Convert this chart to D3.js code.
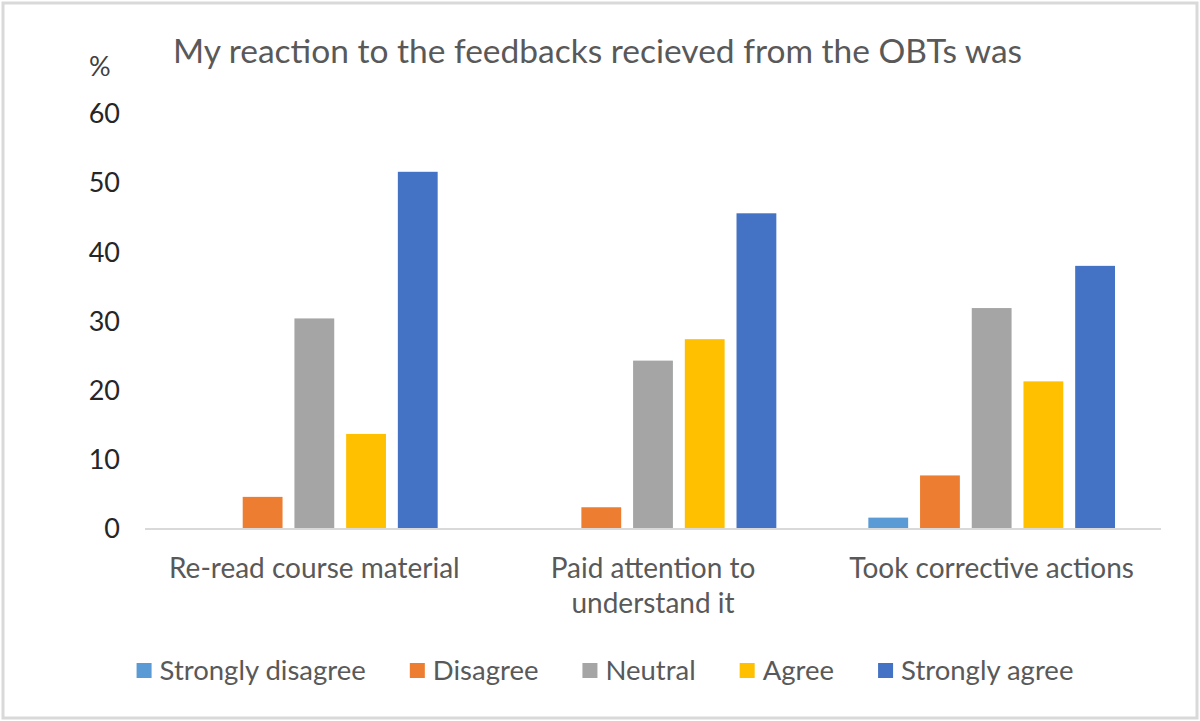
<!DOCTYPE html>
<html>
<head>
<meta charset="utf-8">
<script src="https://cdn.jsdelivr.net/npm/d3@7"></script>
<style>
  body { margin: 0; background: #fff; }
  text { font-family: Lato, "Open Sans", sans-serif; }
</style>
</head>
<body>
<script>
var categories = ["Re-read course material", "Paid attention to understand it", "Took corrective actions"];
var seriesNames = ["Strongly disagree", "Disagree", "Neutral", "Agree", "Strongly agree"];
var seriesColors = ["#5B9BD5", "#ED7D31", "#A5A5A5", "#FFC000", "#4472C4"];
// percent per category, in series order
var rereadValues = [0, 4.5, 30.3, 13.6, 51.5];
var attentionValues = [0, 3.0, 24.2, 27.3, 45.5];
var correctiveValues = [1.5, 7.6, 31.8, 21.2, 37.9];
var yTicks = [0, 10, 20, 30, 40, 50, 60];
var titleText = "My reaction to the feedbacks recieved from the OBTs was";

var width = 1200,
    height = 721,
    plotLeft = 145,
    plotRight = 1161,
    plotTop = 113,
    plotBottom = 528;

var valuesByCat = [rereadValues, attentionValues, correctiveValues];

var svg = d3.select("body").append("svg")
    .attr("width", width)
    .attr("height", height);

// chart frame
svg.append("rect")
    .attr("x", 3).attr("y", 3)
    .attr("width", 1194).attr("height", 715)
    .style("fill", "#fff")
    .style("stroke", "#D9D9D9")
    .style("stroke-width", 3);

var x0 = d3.scaleBand()
    .domain(categories)
    .range([plotLeft, plotRight]);

var x1 = d3.scaleBand()
    .domain(seriesNames)
    .range([46, x0.bandwidth() - 46])
    .paddingInner(0.23);

var y = d3.scaleLinear()
    .domain([0, 60])
    .range([plotBottom, plotTop]);

// y axis (labels only)
var yAxis = svg.append("g")
    .attr("transform", "translate(" + plotLeft + ",0)")
    .call(d3.axisLeft(y).tickValues(yTicks).tickSize(0).tickPadding(25));
yAxis.select(".domain").remove();
yAxis.selectAll("text")
    .style("font-size", "27px")
    .style("fill", "#262626")
    .attr("dy", "0.36em");

// bars
var groups = svg.selectAll(".catGroup")
    .data(categories)
    .enter().append("g")
    .attr("class", "catGroup")
    .attr("transform", function(d) { return "translate(" + x0(d) + ",0)"; });

groups.selectAll("rect")
    .data(function(d, i) {
        return valuesByCat[i].map(function(v, j) {
            return {name: seriesNames[j], value: v, color: seriesColors[j]};
        });
    })
    .enter().append("rect")
    .attr("x", function(d) { return x1(d.name); })
    .attr("y", function(d) { return y(d.value); })
    .attr("width", x1.bandwidth())
    .attr("height", function(d) { return y(0) - y(d.value); })
    .style("fill", function(d) { return d.color; });

// baseline
svg.append("line")
    .attr("x1", plotLeft).attr("x2", plotRight)
    .attr("y1", plotBottom + 1).attr("y2", plotBottom + 1)
    .style("stroke", "#D9D9D9")
    .style("stroke-width", 2);

// category axis
var xAxis = svg.append("g")
    .attr("transform", "translate(0," + plotBottom + ")")
    .call(d3.axisBottom(x0).tickSize(0).tickPadding(0));
xAxis.select(".domain").remove();
xAxis.selectAll("text")
    .style("font-size", "28px")
    .style("fill", "#595959")
    .attr("y", 50)
    .attr("dy", 0)
    .call(wrap, x0.bandwidth() - 10);

function wrap(sel, maxWidth) {
    sel.each(function() {
        var t = d3.select(this),
            words = t.text().split(/\s+/),
            line = [],
            lineNo = 0,
            yy = t.attr("y"),
            tspan = t.text(null).append("tspan").attr("x", 0).attr("y", yy);
        words.forEach(function(w) {
            line.push(w);
            tspan.text(line.join(" "));
            if (tspan.node().getComputedTextLength() > maxWidth && line.length > 1) {
                line.pop();
                tspan.text(line.join(" "));
                line = [w];
                lineNo += 1;
                tspan = t.append("tspan").attr("x", 0).attr("y", +yy + lineNo * 35).text(w);
            }
        });
    });
}

// title and unit
svg.append("text")
    .attr("x", 173).attr("y", 63)
    .style("font-size", "33.5px")
    .style("fill", "#595959")
    .text(titleText);

svg.append("text")
    .attr("x", 89).attr("y", 76)
    .style("font-size", "27px")
    .style("fill", "#404040")
    .text("%");

// legend, laid out from measured text widths and centred
var legendSize = 15,
    legendTextGap = 8,
    legendItemGap = 44,
    legendY = 663;

var legend = svg.append("g").attr("class", "legend");
var items = legend.selectAll(".legendItem")
    .data(seriesNames)
    .enter().append("g")
    .attr("class", "legendItem");

items.append("rect")
    .attr("y", legendY)
    .attr("width", legendSize)
    .attr("height", legendSize)
    .style("fill", function(d, i) { return seriesColors[i]; });

items.append("text")
    .attr("x", legendSize + legendTextGap)
    .attr("y", legendY + legendSize / 2)
    .attr("dy", "0.36em")
    .style("font-size", "27.5px")
    .style("fill", "#595959")
    .text(function(d) { return d; });

var offset = 0;
items.each(function() {
    var w = d3.select(this).select("text").node().getComputedTextLength() + legendSize + legendTextGap;
    d3.select(this).attr("transform", "translate(" + offset + ",0)");
    offset += w + legendItemGap;
});
var legendWidth = offset - legendItemGap;
legend.attr("transform", "translate(" + (605 - legendWidth / 2) + ",0)");
</script>
</body>
</html>
